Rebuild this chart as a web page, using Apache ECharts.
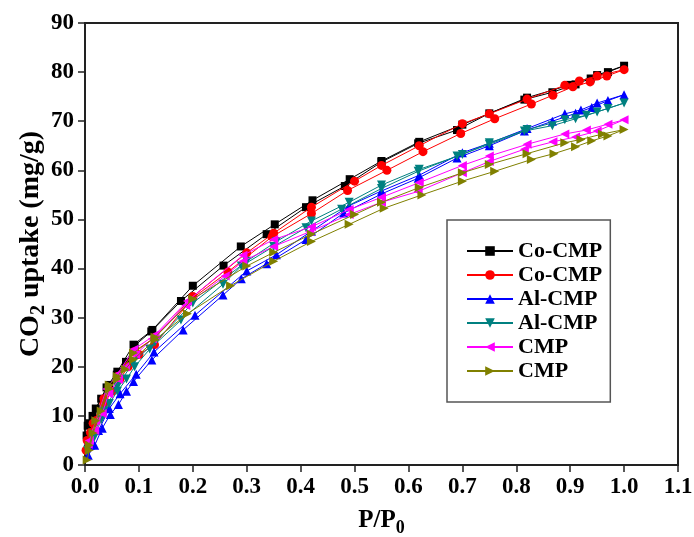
<!DOCTYPE html>
<html>
<head>
<meta charset="utf-8">
<script src="https://cdn.jsdelivr.net/npm/echarts@6/dist/echarts.min.js"></script>
<style>
  html, body { margin: 0; padding: 0; background: #fff; }
  #chart { width: 694px; height: 537px; }
</style>
</head>
<body>
<div id="chart"></div>
<script>
// tick labels
var xTicks = [0, 0.1, 0.2, 0.3, 0.4, 0.5, 0.6, 0.7, 0.8, 0.9, 1.0, 1.1]
var yTicks = [0, 10, 20, 30, 40, 50, 60, 70, 80, 90]

// each isotherm: adsorption branch (going up) then desorption branch (coming back)
var coCmpA_ads = [[0.003, 6], [0.008, 8.5], [0.014, 10], [0.03, 13.5], [0.045, 16.3], [0.059, 18.4], [0.076, 21], [0.092, 24.3], [0.123, 27.2], [0.178, 33.4], [0.257, 40.6], [0.337, 47], [0.41, 52.5], [0.482, 56.8], [0.55, 61.7], [0.618, 65.5], [0.69, 68.2], [0.75, 71.6], [0.815, 74.4], [0.867, 75.9], [0.91, 77.5], [0.938, 78.7], [0.97, 80], [1.0, 81.3]]
var coCmpA_des = [[0.95, 79.4], [0.9, 77.4], [0.82, 74.8], [0.70, 69.3], [0.62, 65.8], [0.55, 61.9], [0.491, 58.2], [0.422, 53.9], [0.352, 49], [0.289, 44.5], [0.2, 36.5], [0.125, 27.5], [0.09, 24.5], [0.06, 19], [0.04, 15.8], [0.02, 11.5], [0.005, 8]]

var coCmpB_ads = [[0.002, 3], [0.01, 6.6], [0.02, 9], [0.035, 12.5], [0.05, 15], [0.065, 17.5], [0.08, 20], [0.1, 22.5], [0.129, 24.5], [0.2, 34], [0.265, 39.3], [0.347, 46.5], [0.42, 51.2], [0.487, 55.9], [0.56, 60], [0.627, 63.8], [0.697, 67.5], [0.76, 70.5], [0.828, 73.5], [0.868, 75.3], [0.905, 77], [0.937, 78], [0.968, 79.2], [1.0, 80.5]]
var coCmpB_des = [[0.95, 79.2], [0.917, 78.2], [0.89, 77.3], [0.82, 74.5], [0.75, 71.5], [0.70, 69.5], [0.62, 65], [0.55, 61], [0.5, 57.8], [0.42, 52.5], [0.35, 47.2], [0.3, 43.2], [0.2, 34.3], [0.13, 26], [0.09, 23], [0.06, 18], [0.035, 13.5], [0.015, 8.5], [0.004, 5]]

var alCmpA_ads = [[0.006, 2], [0.018, 4], [0.032, 7.5], [0.047, 10.3], [0.062, 12.3], [0.077, 15], [0.09, 17], [0.124, 21.4], [0.182, 27.5], [0.256, 34.6], [0.29, 37.9], [0.337, 41], [0.41, 45.9], [0.48, 51.3], [0.55, 55.2], [0.618, 58.4], [0.69, 62.5], [0.75, 65], [0.815, 68], [0.867, 70], [0.91, 71.6], [0.94, 72.8], [0.97, 74.2], [1.0, 75.4]]
var alCmpA_des = [[0.95, 73.7], [0.92, 72.3], [0.89, 71.5], [0.82, 68.5], [0.75, 65.5], [0.70, 63.6], [0.62, 59], [0.55, 55.8], [0.49, 52.8], [0.42, 47.6], [0.355, 42.8], [0.3, 39.5], [0.204, 30.5], [0.128, 23], [0.095, 18.5], [0.065, 14.5], [0.045, 11.5], [0.025, 7], [0.01, 4]]

var alCmpB_ads = [[0.005, 3], [0.017, 5.6], [0.03, 9.2], [0.045, 12.5], [0.06, 15], [0.077, 17.5], [0.092, 20], [0.12, 23.6], [0.178, 29.5], [0.256, 36.8], [0.29, 40.5], [0.35, 44.5], [0.41, 48.3], [0.476, 52.1], [0.55, 56.3], [0.618, 59.8], [0.69, 62.9], [0.75, 65.3], [0.815, 68], [0.867, 69.1], [0.91, 70.5], [0.95, 71.9], [1.0, 73.7]]
var alCmpB_des = [[0.97, 72.6], [0.93, 71.2], [0.89, 70.3], [0.82, 68.3], [0.75, 65.6], [0.70, 63.2], [0.62, 60.2], [0.55, 57], [0.49, 53.5], [0.42, 49.7], [0.355, 45.5], [0.3, 41.5], [0.2, 33], [0.13, 25], [0.09, 21], [0.06, 16], [0.035, 11], [0.015, 6]]

var cmpA_ads = [[0.006, 4.2], [0.018, 7], [0.032, 10.5], [0.044, 14.5], [0.062, 17.4], [0.075, 20], [0.094, 22.5], [0.125, 25.7], [0.187, 32.5], [0.26, 38.5], [0.293, 41.5], [0.35, 44.5], [0.417, 47.5], [0.49, 51], [0.55, 53.5], [0.618, 55.7], [0.70, 59.5], [0.75, 61.8], [0.815, 64.3], [0.868, 65.8], [0.91, 66.8], [0.95, 68], [1.0, 70.3]]
var cmpA_des = [[0.97, 69.4], [0.93, 68.2], [0.89, 67.4], [0.82, 65.3], [0.75, 62.9], [0.70, 61], [0.62, 57.5], [0.55, 54.5], [0.49, 52], [0.42, 48.5], [0.35, 45.9], [0.293, 42.7], [0.19, 33.4], [0.13, 26.5], [0.09, 23.5], [0.06, 18.5], [0.04, 15.5], [0.02, 9], [0.008, 5]]

var cmpB_ads = [[0.004, 1], [0.008, 3], [0.015, 6.5], [0.03, 11], [0.045, 15.5], [0.06, 17.5], [0.075, 19.5], [0.09, 21.5], [0.13, 25.5], [0.19, 30.8], [0.27, 36.5], [0.35, 41.5], [0.42, 45.5], [0.49, 49], [0.555, 52.3], [0.625, 55], [0.70, 57.8], [0.76, 59.8], [0.828, 62.2], [0.87, 63.4], [0.91, 64.8], [0.94, 66], [0.97, 67], [1.0, 68.3]]
var cmpB_des = [[0.96, 67.4], [0.92, 66.3], [0.89, 65.6], [0.82, 63.4], [0.75, 61.2], [0.70, 59.5], [0.62, 56.5], [0.55, 53.5], [0.5, 51], [0.42, 47], [0.35, 43.3], [0.3, 40.5], [0.2, 33.8], [0.13, 26], [0.09, 22.8], [0.06, 18], [0.045, 16.3], [0.02, 9], [0.008, 4]]

var seriesNames = ['Co-CMP 1', 'Co-CMP 2', 'Al-CMP 1', 'Al-CMP 2', 'CMP 1', 'CMP 2']
var seriesColors = ['#000000', '#ff0000', '#0000ff', '#008080', '#ff00ff', '#808000']
var seriesSymbols = [
  'rect',
  'circle',
  'path://M5,0 L10,10 L0,10 Z',
  'path://M0,0 L10,0 L5,10 Z',
  'path://M0,5 L10,0 L10,10 Z',
  'path://M0,0 L10,5 L0,10 Z'
]
var seriesData = [
  coCmpA_ads.concat(coCmpA_des),
  coCmpB_ads.concat(coCmpB_des),
  alCmpA_ads.concat(alCmpA_des),
  alCmpB_ads.concat(alCmpB_des),
  cmpA_ads.concat(cmpA_des),
  cmpB_ads.concat(cmpB_des)
]

var font = '"Liberation Serif", "Times New Roman", serif'

var series = seriesNames.map(function (name, i) {
  return {
    name: name,
    type: 'line',
    data: seriesData[i],
    symbol: seriesSymbols[i],
    symbolSize: i === 0 ? 8 : 9,
    showAllSymbol: true,
    color: seriesColors[i],
    lineStyle: { width: 1, color: seriesColors[i] },
    itemStyle: { color: seriesColors[i] },
    emphasis: { disabled: true },
    z: 2 + i
  }
})

var myChart = echarts.init(document.getElementById('chart'), null, { renderer: 'canvas' })
var option = {
  animation: false,
  backgroundColor: '#fff',
  grid: {
    left: 85, right: 16, top: 23, bottom: 72,
    outerBoundsMode: 'none',
    containLabel: false,
    show: true, borderColor: '#222', borderWidth: 2, backgroundColor: 'transparent'
  },
  legend: {
    orient: 'vertical',
    left: 447, top: 220,
    padding: [20, 8, 20, 19],
    borderColor: '#555', borderWidth: 1.5,
    itemWidth: 46, itemHeight: 12, itemGap: 2,
    data: seriesNames,
    formatter: function (name) { return name.replace(/ \d$/, '') },
    textStyle: { fontFamily: font, fontWeight: 'bold', fontSize: 22, color: '#000', lineHeight: 22 }
  },
  xAxis: {
    type: 'value',
    min: xTicks[0], max: xTicks[xTicks.length - 1], interval: 0.1,
    name: 'P/P{sub|0}',
    nameLocation: 'middle', nameGap: 40,
    nameMoveOverlap: false,
    nameTextStyle: {
      fontFamily: font, fontWeight: 'bold', fontSize: 25, color: '#000', lineHeight: 32,
      rich: { sub: { fontFamily: font, fontWeight: 'bold', fontSize: 18, color: '#000', verticalAlign: 'bottom' } }
    },
    axisLine: { show: true, onZero: false, lineStyle: { color: '#222', width: 2 } },
    axisTick: { show: true, inside: false, length: 7, lineStyle: { color: '#222', width: 1.5 } },
    axisLabel: {
      margin: 11, color: '#000', fontFamily: font, fontWeight: 'bold', fontSize: 23,
      formatter: function (v) { return v.toFixed(1) }
    },
    splitLine: { show: false }
  },
  yAxis: {
    type: 'value',
    min: yTicks[0], max: yTicks[yTicks.length - 1], interval: 10,
    name: 'CO{sub|2} uptake (mg/g)',
    nameLocation: 'middle', nameGap: 36,
    nameMoveOverlap: false,
    nameTextStyle: {
      fontFamily: font, fontWeight: 'bold', fontSize: 28, color: '#000', lineHeight: 36,
      rich: { sub: { fontFamily: font, fontWeight: 'bold', fontSize: 20, color: '#000', verticalAlign: 'bottom' } }
    },
    axisLine: { show: true, onZero: false, lineStyle: { color: '#222', width: 2 } },
    axisTick: { show: true, inside: false, length: 7, lineStyle: { color: '#222', width: 1.5 } },
    axisLabel: { margin: 11, color: '#000', fontFamily: font, fontWeight: 'bold', fontSize: 23 },
    splitLine: { show: false }
  },
  series: series
}
myChart.setOption(option)
</script>
</body>
</html>
